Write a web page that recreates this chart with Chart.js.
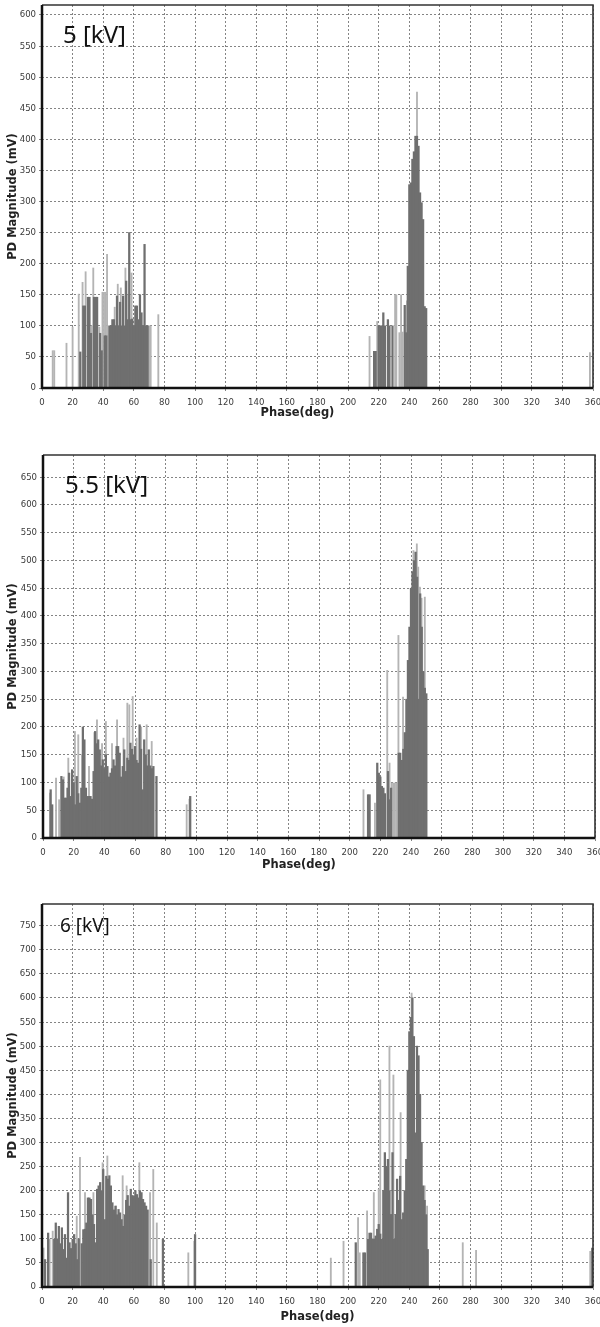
<!DOCTYPE html>
<html>
<head>
<meta charset="utf-8">
<script src="https://cdn.jsdelivr.net/npm/chart.js@4.4.0/dist/chart.umd.min.js"></script>
<style>
  body { margin: 0; background: #fff; }
  .panel { position: absolute; left: 0; width: 600px; }
  canvas { display: block; }
</style>
</head>
<body>
<div class="panel" style="top:0"><canvas id="c5" width="600" height="428"></canvas></div>
<div class="panel" style="top:450px"><canvas id="c55" width="600" height="428"></canvas></div>
<div class="panel" style="top:899px"><canvas id="c6" width="600" height="428"></canvas></div>
<script>
// 5 kV
const p5DarkPhase = [25,27,28,30,31,32,34,35,36,38,39,41,42,44,45,46,47,48,49,50,51,52,53,54,55,56,57,58,59,60,61,62,63,64,65,66,67,68,69,
  217,218,220,221,222,223,224,226,227,229,237,238,239,240,241,242,243,244,245,246,247,248,249,250,251];
const p5DarkMag = [58,132,132,146,146,88,146,146,146,88,60,84,84,100,100,110,110,100,148,100,138,100,148,100,172,110,250,110,111,100,132,132,110,150,121,100,231,100,100,
  59,59,100,100,100,121,100,110,100,100,133,89,196,327,330,368,380,405,405,389,314,298,271,131,128];
const p5LightPhase = [7,8,16,20,24,26.5,28.5,32.5,33.5,37.5,39.5,40.5,41.5,42.5,47.5,49.5,51.5,54.5,56.5,58.5,70,71,76,
  214,219,230.7,231.5,233.5,234.6,235.5,238.5,245,358];
const p5LightMag = [60,60,72,98,151,170,187,100,193,98,154,154,154,215,130,167,161,193,150,185,100,100,118,
  83,107,150,150,89,150,90,140,476,57];

// 5.5 kV
const p55DarkPhase = [5,6,12,13,14,15,16,17,18,19,20,21,22,23,24,25,26,27,28,29,30,31,32,33,34,35,36,37,38,39,40,41,42,43,44,45,46,47,48,49,50,
  51,52,53,54,55,56,57,58,59,60,61,62,63,64,65,66,67,68,69,70,71,72,74,96,
  212,213,218,219,220,221,222,223,225,226,227,232,233,234,235,236,237,238,239,240,241,242,243,244,245,246,247,248,249,250];
const p55DarkMag = [87,60,111,105,72,72,90,117,75,123,100,60,111,80,63,90,200,177,90,75,75,75,70,120,192,170,177,159,130,141,125,150,129,110,117,125,
  141,130,165,165,153,110,129,159,120,144,140,171,160,150,165,140,135,204,160,87,177,150,130,159,130,125,129,111,75,
  78,78,135,117,110,93,90,80,120,69,90,153,153,140,160,190,250,320,380,450,480,500,515,470,250,440,380,300,270,260];
const p55LightPhase = [4.5,8.5,10.5,13.5,16.5,20.8,23,25.5,30,33.5,35.2,38.5,41,45,48.3,52.5,55,56.3,58.5,61,64,67.6,70.9,93.7,95.5,
  209,216.5,224.5,225,226,227.5,228.5,229.5,230.5,231.8,234.8,236.5,241.6,243.8,244.7,245.8,246.9,249];
const p55LightMag = [81,108,69,110,144,192,186,150,129,190,213,170,210,170,213,180,243,240,255,180,200,204,174,60,70,
  87,63,302,99,135,99,99,99,99,365,254,140,518,530,488,452,432,434];

// 6 kV
const p6DarkPhase = [2,4,8,9,10,11,12,13,14,15,16,17,18,19,20,21,22,23,24,26,27,28,29,30,31,32,33,34,35,36,37,38,39,40,41,42,43,44,45,
  46,47,48,49,50,51,52,53,54,55,56,57,58,59,60,61,62,63,64,65,66,67,68,69,71,79,100,
  205,210,211,213,214,215,216,217,218,219,220,221,222,223,224,225,226,227,228,229,230,231,232,233,234,235,236,237,238,239,240,
  241,242,243,244,245,246,247,248,249,250,251,252,359.5];
const p6DarkMag = [57,112,99,133,100,126,90,123,78,109,60,196,92,80,99,109,90,57,100,90,119,120,133,185,185,182,150,130,92,203,210,217,200,244,140,230,224,231,210,
  175,160,168,150,161,154,140,126,150,180,190,168,203,190,189,200,192,185,200,196,182,175,168,160,57,99,109,
  92,71,71,99,112,112,100,99,106,120,130,110,99,200,279,250,265,200,150,279,99,150,224,180,230,140,154,200,265,450,530,
  560,600,520,320,500,480,400,300,210,180,150,78,81];
const p6LightPhase = [1,5,7,22.7,24.8,28.1,33.6,39.6,42.7,48.4,52.7,55.3,63.6,70.6,72.7,75,95.6,99.5,
  188.7,197,206.5,207.6,212.4,216.8,220,221,227,229.6,234.3,241.5,247.4,250,251.6,274.9,283.6,358.2];
const p6LightMag = [81,99,116,147,269,196,196,258,272,168,231,210,258,196,244,133,71,95,
  60,95,144,71,158,196,203,430,500,440,362,610,262,210,168,92,76,74];

const xTitle = 'Phase(deg)';
const yTitle = 'PD Magnitude (mV)';
const darkColor = '#6f6f6f';
const lightColor = '#b4b4b4';
const gridColor = 'rgba(110,110,110,0.85)';
const tickColor = '#3a3a3a';
const tickFont = { family: '"DejaVu Sans Condensed", "Liberation Sans", sans-serif', size: 9.5 };

const toPoints = (ph, mag) => ph.map((x, i) => ({ x: x, y: mag[i] }));

// top/right frame plus thick left/bottom axes, drawn over the bars
const frame = {
  id: 'frame',
  afterDatasetsDraw(chart) {
    const { ctx, chartArea: a } = chart;
    ctx.save();
    ctx.strokeStyle = '#333';
    ctx.lineWidth = 1.6;
    ctx.beginPath();
    ctx.moveTo(a.left, a.top);
    ctx.lineTo(a.right, a.top);
    ctx.lineTo(a.right, a.bottom);
    ctx.stroke();
    ctx.strokeStyle = '#111';
    ctx.lineWidth = 2.5;
    ctx.beginPath();
    ctx.moveTo(a.left, a.top);
    ctx.lineTo(a.left, a.bottom);
    ctx.lineTo(a.right, a.bottom);
    ctx.stroke();
    ctx.restore();
  }
};

const kvLabel = {
  id: 'kvLabel',
  afterDraw(chart, args, o) {
    const { ctx, chartArea: a } = chart;
    ctx.save();
    ctx.font = o.size + 'px "Noto Sans"';
    ctx.fillStyle = '#111';
    ctx.textBaseline = 'alphabetic';
    ctx.fillText(o.text, a.left + o.dx, a.top + o.dy);
    ctx.restore();
  }
};

function makeChart(id, p) {
  return new Chart(document.getElementById(id), {
    type: 'bar',
    data: {
      datasets: [
        { label: 'dark', data: toPoints(p.darkPh, p.darkMag), backgroundColor: darkColor, barThickness: 1.6, grouped: false, order: 0 },
        { label: 'light', data: toPoints(p.lightPh, p.lightMag), backgroundColor: lightColor, barThickness: 1.2, grouped: false, order: 1 }
      ]
    },
    options: {
      responsive: false,
      animation: false,
      layout: { padding: { top: 5, right: p.right, left: 0, bottom: 0 } },
      plugins: {
        legend: { display: false },
        tooltip: { enabled: false },
        kvLabel: { text: p.label, size: p.labelSize, dx: p.labelDx, dy: p.labelDy }
      },
      scales: {
        x: {
          type: 'linear',
          min: 0,
          max: 360,
          offset: false,
          grid: { offset: false, color: gridColor, tickLength: 3 },
          border: { display: false, dash: [2, 2] },
          ticks: { stepSize: 20, autoSkip: false, maxRotation: 0, padding: 6, color: tickColor, font: tickFont },
          title: {
            display: true, text: xTitle + p.titleShift, color: '#222',
            font: { family: '"DejaVu Sans"', size: 11.5, weight: 'bold' },
            padding: { top: 0, bottom: p.titlePad }
          },
          afterFit(s) { s.height = 40; s.paddingLeft = 0; s.paddingRight = 0; }
        },
        y: {
          min: 0,
          max: p.yMax,
          grid: { color: gridColor, tickLength: 3 },
          border: { display: false, dash: [2, 2] },
          ticks: { stepSize: 50, includeBounds: false, padding: 3, color: tickColor, font: tickFont },
          title: {
            display: true, text: yTitle, color: '#222',
            font: { family: '"DejaVu Sans"', size: 11.5, weight: 'bold' },
            padding: { top: 6, bottom: 0 }
          },
          afterFit(s) { s.width = p.left; s.paddingTop = 0; s.paddingBottom = 0; }
        }
      }
    },
    plugins: [frame, kvLabel]
  });
}

makeChart('c5', {
  darkPh: p5DarkPhase, darkMag: p5DarkMag, lightPh: p5LightPhase, lightMag: p5LightMag,
  yMax: 616, left: 42, right: 7, label: '5 [kV]', labelSize: 24, labelDx: 21, labelDy: 38,
  titlePad: 8, titleShift: '          '
});
makeChart('c55', {
  darkPh: p55DarkPhase, darkMag: p55DarkMag, lightPh: p55LightPhase, lightMag: p55LightMag,
  yMax: 690, left: 43, right: 5, label: '5.5 [kV]', labelSize: 24, labelDx: 22, labelDy: 38,
  titlePad: 6, titleShift: '          '
});
makeChart('c6', {
  darkPh: p6DarkPhase, darkMag: p6DarkMag, lightPh: p6LightPhase, lightMag: p6LightMag,
  yMax: 795, left: 42, right: 7, label: '6 [kV]', labelSize: 19, labelDx: 18, labelDy: 28,
  titlePad: 3, titleShift: ''
});
</script>
</body>
</html>
